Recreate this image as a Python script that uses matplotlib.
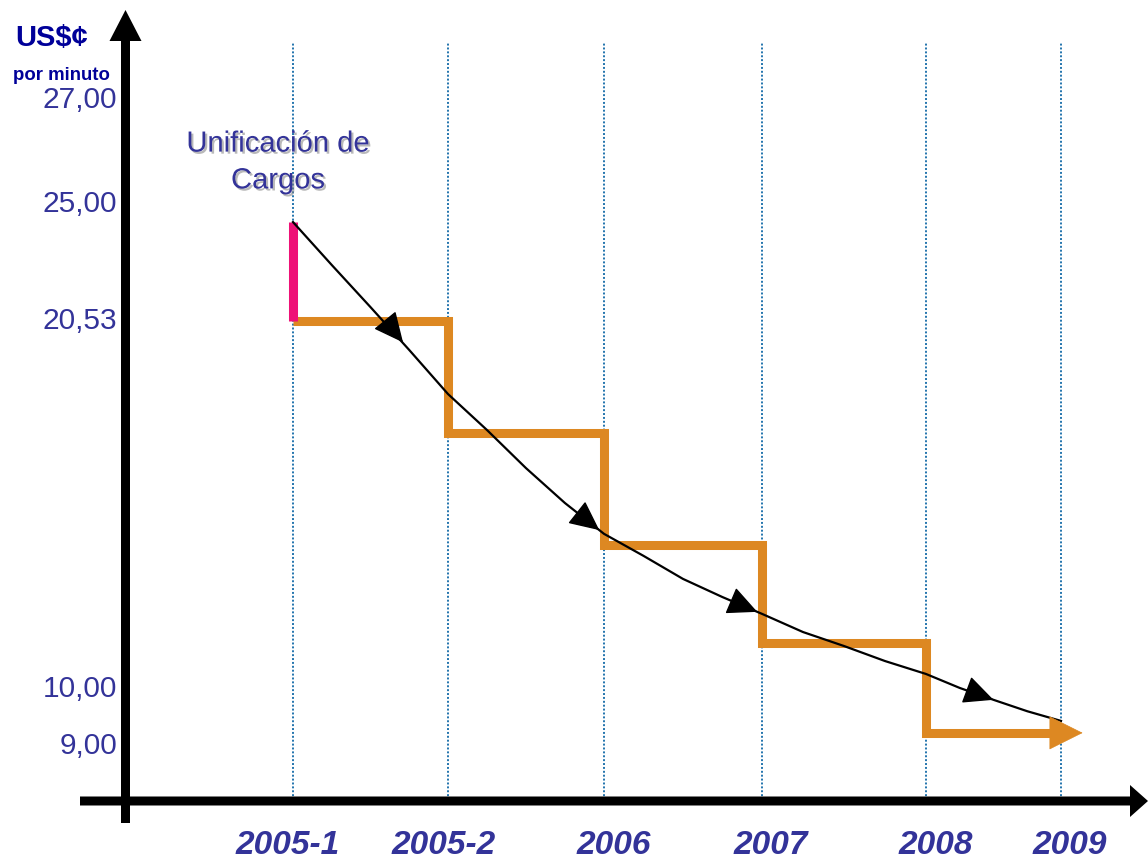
import numpy as np
import matplotlib
matplotlib.use('Agg')
import matplotlib.pyplot as plt
import matplotlib.patheffects as pe
from matplotlib.patches import FancyArrow
from matplotlib.transforms import IdentityTransform

plt.rcParams['font.family'] = ['Liberation Sans', 'DejaVu Sans']

# datos
categorias = ['2005-1', '2005-2', '2006', '2007', '2008', '2009']
cargo = [20.53, 17.33, 14.12, 11.32, 9.23, 9.23]
cargo_inicial = 24.31
curva_x = [0, 0.25, 0.5, 0.75, 1, 1.25, 1.5, 1.75, 2, 2.25, 2.5, 2.75, 3,
           3.25, 3.5, 3.75, 4, 4.25, 4.5, 4.75, 5]
curva_y = [24.31, 22.67, 21.06, 19.70, 18.44, 17.41, 16.32, 15.32, 14.44,
           13.81, 13.15, 12.63, 12.15, 11.63, 11.23, 10.80, 10.43, 10.03,
           9.81, 9.61, 9.44]
flechas_x = [0.71, 1.97, 2.97, 4.5]
yticks = [9, 10, 20.53, 25, 27]
ytick_labels = ['9,00', '10,00', '20,53', '25,00', '27,00']

azul = '#333399'
naranja = '#dd8822'
magenta = '#ee1177'

# the drawing is schematic, so both axes get a piecewise scale
X_IDX = np.array([-3, 0, 1, 2, 3, 4, 5, 8])
X_PX = np.array([-172, 293, 448, 604, 762, 926, 1061, 1466])
Y_VAL = np.array([0, 9, 10, 20.53, 25, 27, 40])
Y_PX = -np.array([1259, 746, 689, 321, 204, 100, -576])
# small horizontal nudges of the year labels (points)
label_dx = [-4, -3, 7, 6.5, 7, 6.5]


def fx(v):
    return np.interp(v, X_IDX, X_PX)


def ix(p):
    return np.interp(p, X_PX, X_IDX)


def fy(v):
    return np.interp(v, Y_VAL, Y_PX)


def iy(p):
    return np.interp(p, Y_PX, Y_VAL)


W, H = 1148, 863
fig = plt.figure(figsize=(W / 100, H / 100), dpi=100)
ax = fig.add_axes([0, 0, 1, 1])
ax.set_xscale('function', functions=(fx, ix))
ax.set_yscale('function', functions=(fy, iy))
ax.set_xlim(ix(0), ix(W))
ax.set_ylim(iy(-H), iy(0))
ax.set_axis_off()

# ejes con flechas
fig.add_artist(FancyArrow(125.5, H - 823, 0, 813, width=9, head_width=32,
                          head_length=31, length_includes_head=True,
                          color='black', lw=0, transform=IdentityTransform()))
fig.add_artist(FancyArrow(80, H - 801, W - 80, 0, width=9, head_width=32,
                          head_length=18, length_includes_head=True,
                          color='black', lw=0, transform=IdentityTransform()))

# lineas verticales punteadas
ax.vlines(range(len(categorias)), 1 - 800 / H, 1 - 42 / H,
          transform=ax.get_xaxis_transform(), colors='#2274ad',
          linestyles=(0, (1, 1)), lw=1.4)

# escalones
ax.plot(range(len(categorias)), cargo, drawstyle='steps-post', color=naranja,
        lw=6.5, solid_joinstyle='miter', solid_capstyle='butt')
ax.annotate('', xy=(len(categorias) - 1 + 0.16, cargo[-1]),
            xytext=(len(categorias) - 1 - 0.07, cargo[-1]),
            arrowprops=dict(arrowstyle='-|>,head_length=23,head_width=11.5',
                            mutation_scale=1, color=naranja, lw=0.5,
                            shrinkA=0, shrinkB=0))
ax.plot([0, 0], [cargo_inicial, cargo[0]], color=magenta, lw=6.5,
        solid_capstyle='butt')

# curva de tendencia
ax.plot(curva_x, curva_y, color='black', lw=1.6)
for t in flechas_x:
    ax.annotate('', xy=(t, np.interp(t, curva_x, curva_y)),
                xytext=(t - 0.05, np.interp(t - 0.05, curva_x, curva_y)),
                arrowprops=dict(arrowstyle='-|>,head_length=19,head_width=9',
                                mutation_scale=1, color='black', lw=1,
                                shrinkA=0, shrinkB=0))

# textos
for v, lab in zip(yticks, ytick_labels):
    ax.text(117 / W, v, lab, transform=ax.get_yaxis_transform(), ha='right',
            va='center', fontsize=21.5, color=azul)
for i, cat in enumerate(categorias):
    ax.annotate(cat, xy=(i, 1 - 845 / H), xycoords=ax.get_xaxis_transform(),
                xytext=(label_dx[i], 0), textcoords='offset points',
                ha='center', va='center', fontsize=24, fontweight='bold',
                fontstyle='italic', color=azul)

fig.text(15 / W, 1 - 38 / H, 'US$¢', fontsize=21, fontweight='bold',
         color='#000099', ha='left', va='center')
fig.text(13 / W, 1 - 75 / H, 'por minuto', fontsize=13.4, fontweight='bold',
         color='#000099', ha='left', va='center')
fig.text(278 / W, 1 - 162 / H, 'Unificación de\nCargos', ha='center',
         va='center', multialignment='center', fontsize=21, color=azul,
         linespacing=1.4,
         path_effects=[pe.withSimplePatchShadow(offset=(1.5, -1.5),
                                                shadow_rgbFace='gray',
                                                alpha=0.55)])

fig.savefig('out.png', dpi=100)
